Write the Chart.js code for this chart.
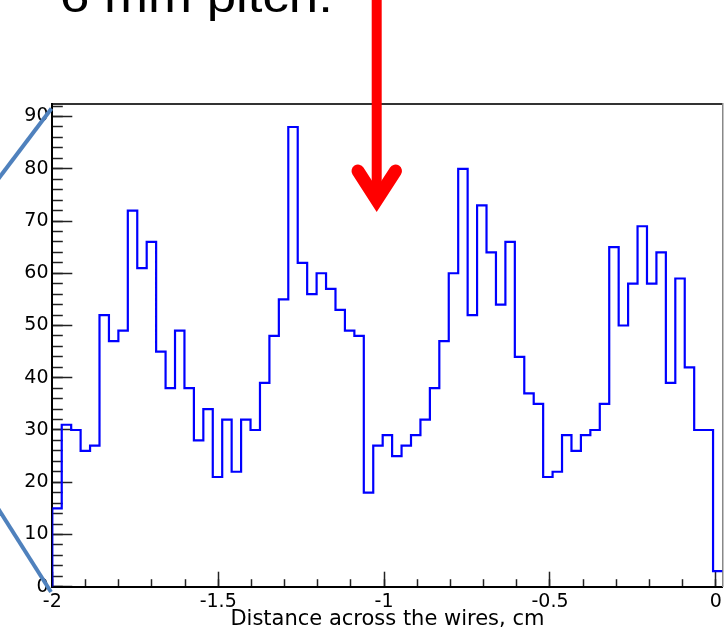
<!DOCTYPE html>
<html>
<head>
<meta charset="utf-8">
<script src="https://cdn.jsdelivr.net/npm/chart.js@4/dist/chart.umd.min.js"></script>
<style>
html,body{margin:0;padding:0;background:#fff;overflow:hidden;}
#wrap{position:relative;width:724px;height:630px;overflow:hidden;background:#fff;}
#c{position:absolute;left:0;top:0;}
#slideTitle{position:absolute;left:60px;top:-25px;font-family:"Liberation Sans",Arial,sans-serif;font-size:44px;line-height:44px;white-space:nowrap;transform:scaleX(1.2);transform-origin:0 0;color:#000;}
#deco{position:absolute;left:0;top:0;}
</style>
</head>
<body>
<div id="wrap">
  <canvas id="c" width="724" height="630"></canvas>
  <div id="slideTitle">6 mm pitch.</div>
  <svg id="deco" width="724" height="630" xmlns="http://www.w3.org/2000/svg">
    <line x1="-20" y1="203" x2="51.5" y2="108.5" stroke="#4F81BD" stroke-width="4"/>
    <line x1="-20" y1="480" x2="51" y2="592" stroke="#4F81BD" stroke-width="4"/>
    <line x1="376.7" y1="-10" x2="376.7" y2="198" stroke="#FF0000" stroke-width="10"/>
    <polyline points="358,171 376.7,200 395.5,171" fill="none" stroke="#FF0000" stroke-width="13" stroke-linecap="round" stroke-linejoin="miter"/>
  </svg>
</div>
<script>
// ---- data ----
const binStart = -2;
const binWidth = 2.02 / 71;
const counts = [15,31,30,26,27,52,47,49,72,61,
                66,45,38,49,38,28,34,21,32,22,
                32,30,39,48,55,88,62,56,60,57,
                53,49,48,18,27,29,25,27,29,32,
                38,47,60,80,52,73,64,54,66,44,
                37,35,21,22,29,26,29,30,35,65,
                50,58,69,58,64,39,59,42,30,30,3];
const xMajorTicks = [-2, -1.5, -1, -0.5, 0];
const xTickLabels = ['-2', '-1.5', '-1', '-0.5', '0'];
const xMinorTicks = Array.from({length: 21}, (_, i) => -2 + i * 0.1);
const yMajorTicks = [0, 10, 20, 30, 40, 50, 60, 70, 80, 90];
const yTickLabels = ['0', '10', '20', '30', '40', '50', '60', '70', '80', '90'];
const yMinorTicks = Array.from({length: 47}, (_, i) => i * 2);
const xTitle = 'Distance across the wires, cm';

// histogram outline points (bin upper edges, stepped 'after')
const histPoints = [{x: binStart, y: 0}].concat(
  counts.map((c, i) => ({x: binStart + (i + 1) * binWidth, y: c}))
);

const tickFont = {family: 'DejaVu Sans', size: 19};
const fixTicks = vals => scale => { scale.ticks = vals.map(v => ({value: v})); };
const noPad = s => { s.paddingLeft = 0; s.paddingRight = 0; s.paddingTop = 0; s.paddingBottom = 0; };

new Chart(document.getElementById('c'), {
  type: 'line',
  data: {
    datasets: [{
      data: histPoints,
      xAxisID: 'x',
      yAxisID: 'y',
      stepped: 'after',
      borderColor: '#0000FF',
      borderWidth: 2.2,
      pointRadius: 0,
      fill: false
    }]
  },
  options: {
    responsive: false,
    animation: false,
    layout: {padding: {top: 104, right: 1.5, bottom: 0, left: 0}},
    plugins: {legend: {display: false}, tooltip: {enabled: false}, title: {display: false}},
    scales: {
      x: {
        type: 'linear', axis: 'x', position: 'bottom', weight: 1,
        min: -2, max: 0.02,
        afterBuildTicks: fixTicks(xMajorTicks),
        afterFit: s => { s.height = 43.3; noPad(s); },
        ticks: {autoSkip: false, maxRotation: 0, minRotation: 0, padding: 18.5, font: tickFont, color: '#000',
                callback: (v, i) => xTickLabels[i]},
        grid: {display: true, drawOnChartArea: false, drawTicks: true, tickLength: -15, tickColor: '#222', tickWidth: 1.5},
        border: {display: true, color: '#000', width: 2},
        title: {display: true, text: xTitle, color: '#000',
                font: {family: 'DejaVu Sans', size: 21, lineHeight: 1}, padding: {top: 0, bottom: 0}}
      },
      xMinor: {
        type: 'linear', axis: 'x', position: 'bottom', weight: 0,
        min: -2, max: 0.02,
        afterBuildTicks: fixTicks(xMinorTicks),
        afterFit: s => { s.height = 0; noPad(s); },
        ticks: {display: false},
        grid: {display: true, drawOnChartArea: false, drawTicks: true, tickLength: -7.5, tickColor: '#222', tickWidth: 1.5},
        border: {display: false}
      },
      xTop: {
        type: 'linear', axis: 'x', position: 'top',
        min: -2, max: 0.02,
        afterFit: s => { s.height = 0; noPad(s); },
        ticks: {display: false},
        grid: {display: true, drawOnChartArea: false, drawTicks: false},
        border: {display: true, color: '#333', width: 2}
      },
      y: {
        type: 'linear', axis: 'y', position: 'left', weight: 1,
        min: 0, max: 92.4,
        afterBuildTicks: fixTicks(yMajorTicks),
        afterFit: s => { s.width = 52.3; noPad(s); },
        ticks: {autoSkip: false, padding: 23.8, font: tickFont, color: '#000',
                callback: (v, i) => yTickLabels[i]},
        grid: {display: true, drawOnChartArea: false, drawTicks: true, tickLength: -20, tickColor: '#222', tickWidth: 1.5},
        border: {display: true, color: '#000', width: 2}
      },
      yMinor: {
        type: 'linear', axis: 'y', position: 'left', weight: 0,
        min: 0, max: 92.4,
        afterBuildTicks: fixTicks(yMinorTicks),
        afterFit: s => { s.width = 0; noPad(s); },
        ticks: {display: false},
        grid: {display: true, drawOnChartArea: false, drawTicks: true, tickLength: -10.5, tickColor: '#222', tickWidth: 1.5},
        border: {display: false}
      },
      yRight: {
        type: 'linear', axis: 'y', position: 'right',
        min: 0, max: 92.4,
        afterFit: s => { s.width = 0; noPad(s); },
        ticks: {display: false},
        grid: {display: true, drawOnChartArea: false, drawTicks: false},
        border: {display: true, color: '#888', width: 1.5}
      }
    }
  }
});
</script>
</body>
</html>
